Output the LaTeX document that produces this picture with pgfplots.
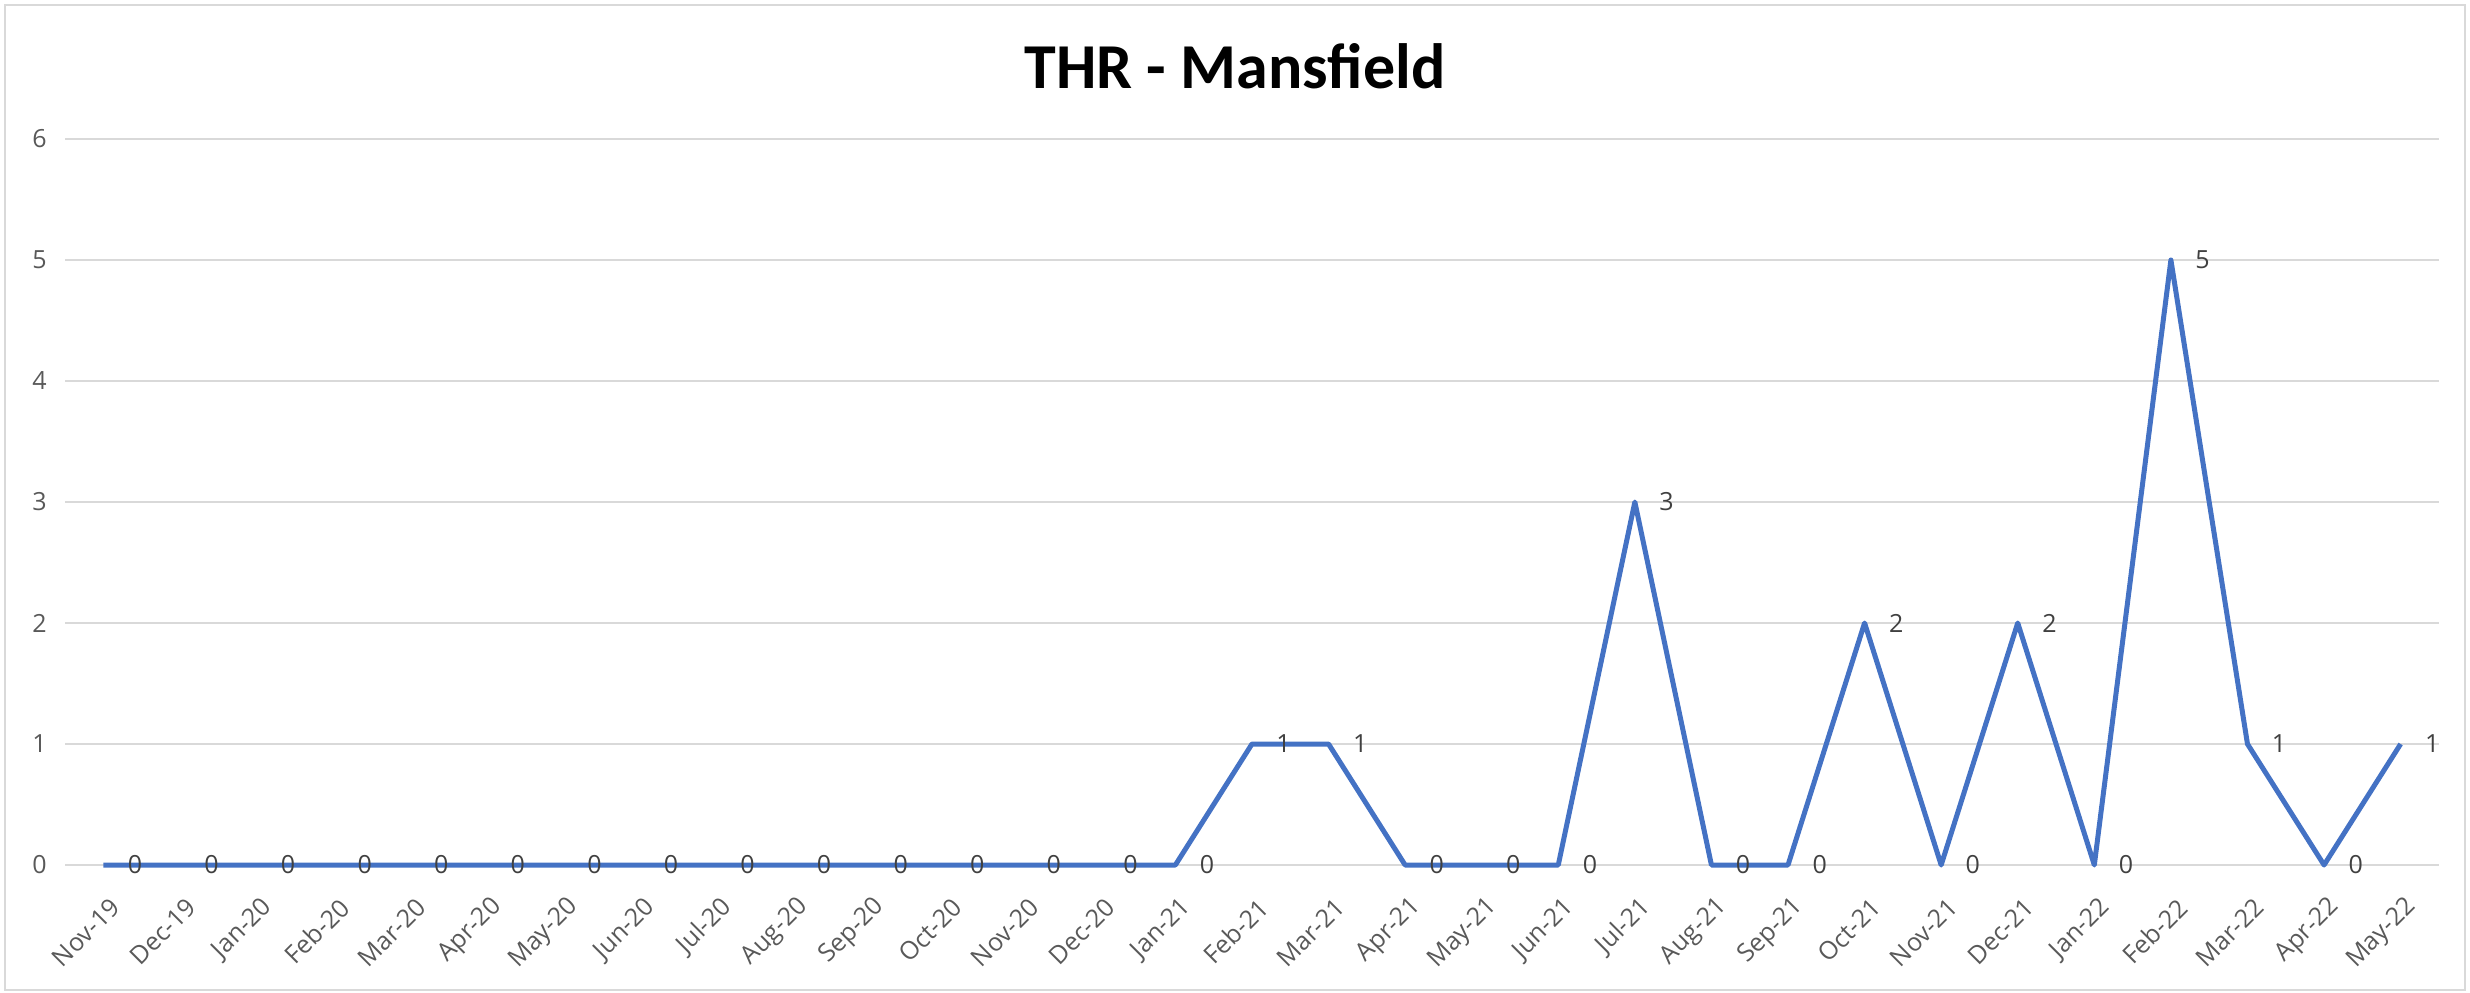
\documentclass[border=0pt]{standalone}
\usepackage{pgfplots}
\pgfplotsset{compat=1.18}
\usepackage{fontspec}
\setmainfont{Open Sans}
\newfontfamily\titlefont{Carlito}
\definecolor{linecol}{HTML}{4472C4}
\definecolor{gridcol}{HTML}{D9D9D9}
\definecolor{tickcol}{HTML}{595959}
\definecolor{labcol}{HTML}{404040}
\begin{document}
\begin{tikzpicture}
\useasboundingbox (0,0) rectangle (1235pt,496pt);
\draw[gridcol, line width=1pt] (2.5pt,1pt) rectangle (1232.5pt,493.5pt);
\node[font=\titlefont\bfseries\fontsize{32}{36}\selectfont, anchor=center] at (617.5pt,463pt) {THR - Mansfield};
\begin{axis}[
  at={(32.5pt,63.5pt)}, anchor=south west,
  width=1187pt, height=363pt, scale only axis,
  xmin=-0.5, xmax=30.5, ymin=0, ymax=6,
  ytick={0,1,2,3,4,5,6},
  xtick={0,...,30},
  xticklabels={Nov-19,Dec-19,Jan-20,Feb-20,Mar-20,Apr-20,May-20,Jun-20,Jul-20,Aug-20,Sep-20,Oct-20,Nov-20,Dec-20,Jan-21,Feb-21,Mar-21,Apr-21,May-21,Jun-21,Jul-21,Aug-21,Sep-21,Oct-21,Nov-21,Dec-21,Jan-22,Feb-22,Mar-22,Apr-22,May-22},
  axis x line*=bottom, axis y line*=left,
  y axis line style={draw=none},
  x axis line style={draw=gridcol, line width=1.2pt},
  major tick length=0pt,
  tick style={draw=none},
  ymajorgrids, grid style={draw=gridcol, line width=1pt},
  /pgf/number format/assume math mode=true,
  yticklabel style={font=\fontsize{12.5}{14}\selectfont, text=tickcol, anchor=east, inner sep=0pt, xshift=-9pt},
  xticklabel style={font=\fontsize{12.5}{14}\selectfont, text=tickcol, inner sep=0pt, xshift=6pt, yshift=-19pt, rotate=45, anchor=east},
  clip=false,
  nodes near coords,
  nodes near coords style={font=\fontsize{12.5}{14}\selectfont, text=labcol, anchor=west, inner sep=0pt, xshift=11pt},
]
\addplot[color=linecol, line width=2.5pt, line join=round, no marks] coordinates {
(0,0) (1,0) (2,0) (3,0) (4,0) (5,0) (6,0) (7,0) (8,0) (9,0) (10,0) (11,0) (12,0) (13,0) (14,0)
(15,1) (16,1) (17,0) (18,0) (19,0) (20,3) (21,0) (22,0) (23,2) (24,0) (25,2) (26,0) (27,5) (28,1) (29,0) (30,1)
};
\end{axis}
\end{tikzpicture}
\end{document}
